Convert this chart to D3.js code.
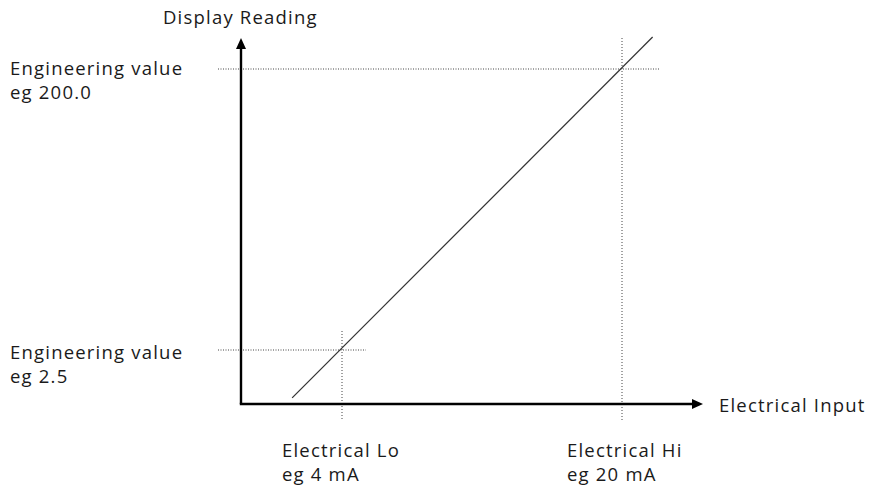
<!DOCTYPE html>
<html>
<head>
<meta charset="utf-8">
<script src="https://cdn.jsdelivr.net/npm/d3@7"></script>
<style>
  html, body { margin: 0; padding: 0; background: #fff; }
  svg text { font-family: "Open Sans", "Noto Sans", sans-serif; font-size: 18.5px; fill: #1a1a1a; letter-spacing: 1.2px; }
</style>
</head>
<body>
<svg id="chart" width="869" height="490"></svg>
<script>
// Calibration points: electrical input (mA) against displayed engineering value
const inputMA = [4, 20];
const engValues = [2.5, 200];
const inputLabels = [["Electrical Lo", "eg 4 mA"], ["Electrical Hi", "eg 20 mA"]];
const valueLabels = [["Engineering value", "eg 2.5"], ["Engineering value", "eg 200.0"]];

// Extent of the drawn scaling line
const lineMA = [1.15, 21.75];
const lineValues = [-31.2, 222.5];

const svg = d3.select("#chart");

// Axis frame
const origin = { x: 241, y: 404 };
const xAxisEnd = 703, yAxisTop = 38;

const x = d3.scaleLinear().domain(inputMA).range([342, 622]);
const y = d3.scaleLinear().domain(engValues).range([350, 69]);

// Dotted guide lines through each calibration point
const guides = inputMA.map((v, i) => ({ mA: v, val: engValues[i], i }));
const hExtra = [24, 38], vTop = [19, 31];

svg.selectAll("line.hguide").data(guides).join("line")
  .attr("class", "hguide")
  .attr("x1", 218).attr("x2", d => x(d.mA) + hExtra[d.i])
  .attr("y1", d => y(d.val)).attr("y2", d => y(d.val))
  .attr("stroke", "#444").attr("stroke-width", 1).attr("stroke-dasharray", "1,1.5");

svg.selectAll("line.vguide").data(guides).join("line")
  .attr("class", "vguide")
  .attr("x1", d => x(d.mA)).attr("x2", d => x(d.mA))
  .attr("y1", d => y(d.val) - vTop[d.i]).attr("y2", 421)
  .attr("stroke", "#444").attr("stroke-width", 1).attr("stroke-dasharray", "1,2");

// Scaling line
svg.append("line")
  .attr("x1", x(lineMA[0])).attr("y1", y(lineValues[0]))
  .attr("x2", x(lineMA[1])).attr("y2", y(lineValues[1]))
  .attr("stroke", "#333").attr("stroke-width", 1.2);

// Axes with arrow heads
svg.append("line")
  .attr("x1", origin.x).attr("y1", origin.y).attr("x2", origin.x).attr("y2", yAxisTop + 8)
  .attr("stroke", "#000").attr("stroke-width", 2.4);
svg.append("line")
  .attr("x1", origin.x - 1.2).attr("y1", origin.y).attr("x2", xAxisEnd - 8).attr("y2", origin.y)
  .attr("stroke", "#000").attr("stroke-width", 2.4);
svg.append("path")
  .attr("d", `M${origin.x},${yAxisTop} L${origin.x - 5},${yAxisTop + 11} L${origin.x + 5},${yAxisTop + 11} Z`)
  .attr("fill", "#000");
svg.append("path")
  .attr("d", `M${xAxisEnd},${origin.y} L${xAxisEnd - 11},${origin.y - 5} L${xAxisEnd - 11},${origin.y + 5} Z`)
  .attr("fill", "#000");

// Axis titles
svg.append("text").attr("x", 163).attr("y", 24).text("Display Reading");
svg.append("text").attr("x", 719).attr("y", 412).text("Electrical Input");

// Value labels on the left
const lineGap = 23.5;
const valueBaseline = [359, 75];
svg.selectAll("text.vlabel").data(guides).join("text")
  .attr("class", "vlabel")
  .attr("y", d => valueBaseline[d.i])
  .selectAll("tspan").data(d => valueLabels[d.i]).join("tspan")
  .attr("x", 10).attr("dy", (t, j) => j === 0 ? 0 : lineGap)
  .text(t => t);

// Input labels below the axis
const inputLabelX = [282, 567];
svg.selectAll("text.ilabel").data(guides).join("text")
  .attr("class", "ilabel")
  .attr("y", 457)
  .selectAll("tspan").data(d => inputLabels[d.i].map(t => ({ t, i: d.i }))).join("tspan")
  .attr("x", d => inputLabelX[d.i]).attr("dy", (d, j) => j === 0 ? 0 : lineGap)
  .text(d => d.t);
</script>
</body>
</html>
